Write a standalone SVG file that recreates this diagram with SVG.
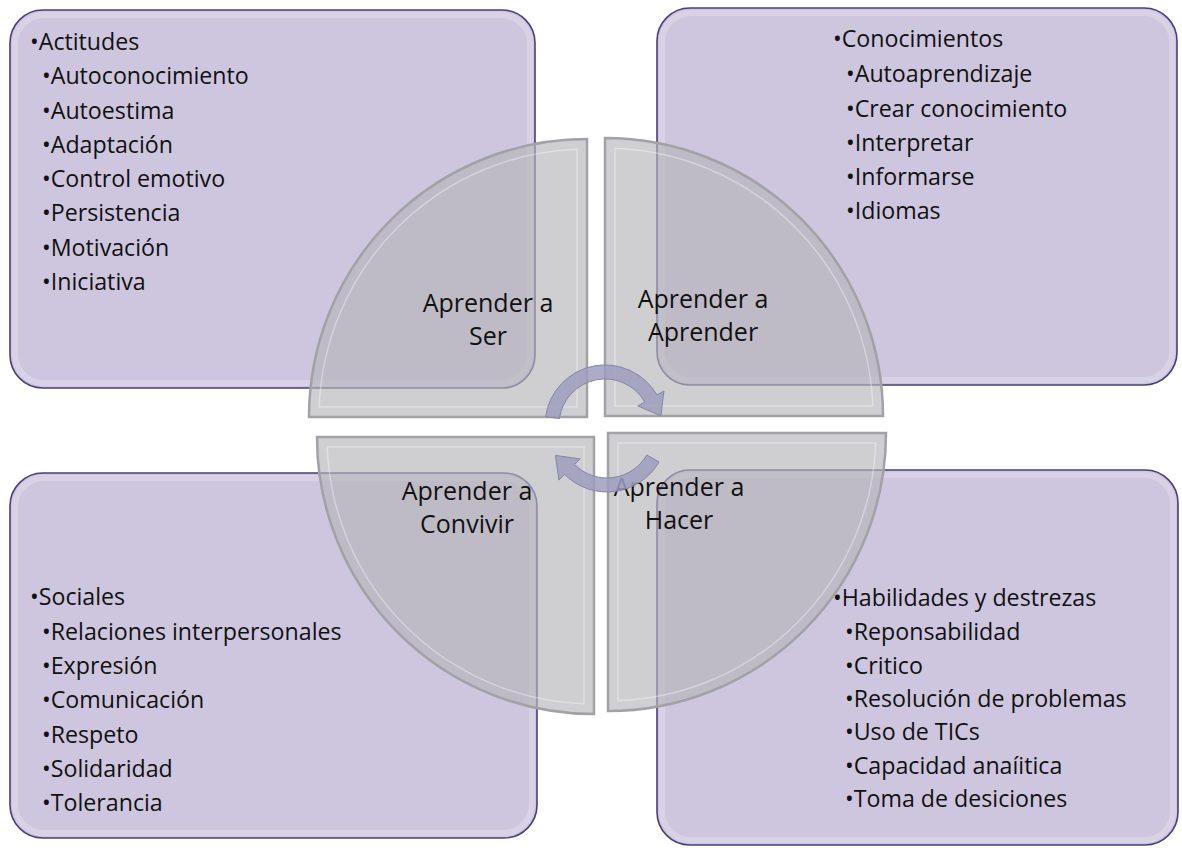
<svg xmlns="http://www.w3.org/2000/svg" width="1182" height="848" viewBox="0 0 1182 848">
  <defs>
    <style>
      .box { fill: #cdc6de; stroke: #4b3e7c; stroke-width: 1.6; }
      .boxglow { fill: none; stroke: #ffffff; stroke-opacity: 0.22; stroke-width: 6; }
      .quad { fill: #b5b5b8; fill-opacity: 0.65; stroke: #a2a2a6; stroke-width: 2.5; }
      .bevel { fill: none; stroke: #ffffff; stroke-opacity: 0.35; stroke-width: 1.5; }
      .list { font-family: "Open Sans", "Noto Sans", sans-serif; font-size: 23.2px; fill: #111111; }
      .lbl { font-family: "Open Sans", "Noto Sans", sans-serif; font-size: 25px; fill: #111111; text-anchor: middle; }
      .arrow { fill: #9d9dc0; fill-opacity: 0.85; stroke: #8585a6; stroke-width: 1; }
    </style>
  </defs>

  <!-- Outer boxes -->
  <g id="box-ser">
    <rect class="box" x="10" y="10" width="525" height="378" rx="33" ry="33"/>
    <rect class="boxglow" x="15" y="15" width="515" height="368" rx="29" ry="29"/>
    <text class="list" x="30" y="50">•Actitudes</text>
    <text class="list" x="42" y="84">•Autoconocimiento</text>
    <text class="list" x="42" y="118.5">•Autoestima</text>
    <text class="list" x="42" y="153">•Adaptación</text>
    <text class="list" x="42" y="187">•Control emotivo</text>
    <text class="list" x="42" y="221">•Persistencia</text>
    <text class="list" x="42" y="255.5">•Motivación</text>
    <text class="list" x="42" y="290">•Iniciativa</text>
  </g>

  <g id="box-aprender">
    <rect class="box" x="657" y="8" width="520" height="377" rx="33" ry="33"/>
    <rect class="boxglow" x="662" y="13" width="510" height="367" rx="29" ry="29"/>
    <text class="list" x="833" y="47">•Conocimientos</text>
    <text class="list" x="846" y="82">•Autoaprendizaje</text>
    <text class="list" x="846" y="116.5">•Crear conocimiento</text>
    <text class="list" x="846" y="150.5">•Interpretar</text>
    <text class="list" x="846" y="185">•Informarse</text>
    <text class="list" x="846" y="219">•Idiomas</text>
  </g>

  <g id="box-convivir">
    <rect class="box" x="10" y="473" width="527" height="365" rx="33" ry="33"/>
    <rect class="boxglow" x="15" y="478" width="517" height="355" rx="29" ry="29"/>
    <text class="list" x="30" y="605">•Sociales</text>
    <text class="list" x="42" y="639.5">•Relaciones interpersonales</text>
    <text class="list" x="42" y="674">•Expresión</text>
    <text class="list" x="42" y="708">•Comunicación</text>
    <text class="list" x="42" y="742.5">•Respeto</text>
    <text class="list" x="42" y="777">•Solidaridad</text>
    <text class="list" x="42" y="811">•Tolerancia</text>
  </g>

  <g id="box-hacer">
    <rect class="box" x="657" y="470" width="521" height="375" rx="33" ry="33"/>
    <rect class="boxglow" x="662" y="475" width="511" height="365" rx="29" ry="29"/>
    <text class="list" x="833" y="606">•Habilidades y destrezas</text>
    <text class="list" x="845" y="640">•Reponsabilidad</text>
    <text class="list" x="845" y="673.5">•Critico</text>
    <text class="list" x="845" y="707">•Resolución de problemas</text>
    <text class="list" x="845" y="740">•Uso de TICs</text>
    <text class="list" x="845" y="773.5">•Capacidad anaíitica</text>
    <text class="list" x="845" y="807">•Toma de desiciones</text>
  </g>

  <!-- Central pie quadrants -->
  <g id="quad-ser">
    <path class="quad" d="M587 417 L309 417 A278 278 0 0 1 587 139 Z"/>
    <path class="bevel" d="M577 407 L319.2 407 A268 268 0 0 1 577 149.2 Z"/>
    <text class="lbl" x="488" y="312">Aprender a</text>
    <text class="lbl" x="488" y="345">Ser</text>
  </g>

  <g id="quad-aprender">
    <path class="quad" d="M605 416 L605 138 A278 278 0 0 1 883 416 Z"/>
    <path class="bevel" d="M615 406 L615 148.2 A268 268 0 0 1 872.8 406 Z"/>
    <text class="lbl" x="703" y="308">Aprender a</text>
    <text class="lbl" x="703" y="341">Aprender</text>
  </g>

  <g id="quad-hacer">
    <path class="quad" d="M608 433 L886 433 A278 278 0 0 1 608 711 Z"/>
    <path class="bevel" d="M618 443 L875.8 443 A268 268 0 0 1 618 700.8 Z"/>
    <text class="lbl" x="679" y="496">Aprender a</text>
    <text class="lbl" x="679" y="529">Hacer</text>
  </g>

  <g id="quad-convivir">
    <path class="quad" d="M594 437 L594 714 A277 277 0 0 1 317 437 Z"/>
    <path class="bevel" d="M584 447 L584 703.8 A267 267 0 0 1 327.2 447 Z"/>
    <text class="lbl" x="467" y="500">Aprender a</text>
    <text class="lbl" x="467" y="533">Convivir</text>
  </g>

  <!-- Circular arrows -->
  <g id="connectors">
    <path class="arrow" d="M545.6 416.6 A60 60 0 0 1 657 395 L663.9 391 L660.9 415.8 L637.9 406 L644.8 402 A46 46 0 0 0 559.4 418.6 Z"/>
    <path class="arrow" d="M659 462 A60 60 0 0 1 564.6 474.4 L558.9 480.1 L555.4 455.4 L580.1 458.9 L574.5 464.5 A46 46 0 0 0 646.8 455 Z"/>
  </g>
</svg>
